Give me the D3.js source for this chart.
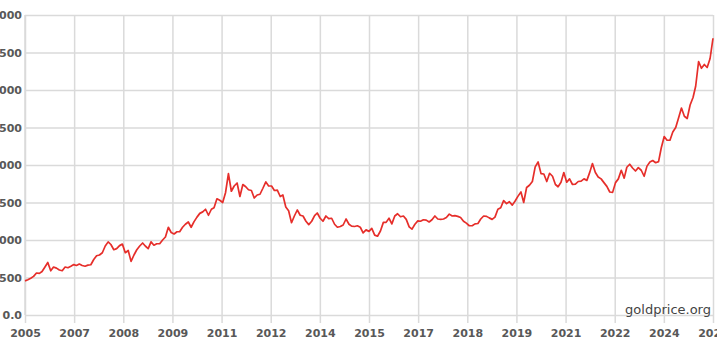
<!DOCTYPE html>
<html>
<head>
<meta charset="utf-8">
<script src="https://cdn.jsdelivr.net/npm/d3@7"></script>
<style>
  html, body { margin: 0; padding: 0; background: #fff; }
  #chart { width: 717px; height: 355px; overflow: hidden; }
  .axis text { font-family: "DejaVu Sans", sans-serif; font-size: 11px; font-weight: bold; fill: #585858; }
  .axis line { stroke: #dadada; stroke-width: 1.5; }
  .axis path { display: none; }
</style>
</head>
<body>
<div id="chart"></div>
<script>
// monthly gold price, USD/oz (series starts Sep 2005)
const firstMonth = 9;
const p2005 = [455, 470, 490, 515];
const p2006 = [560, 555, 580, 640, 700, 590, 640, 625, 600, 590, 640, 630];
const p2007 = [650, 672, 660, 680, 660, 650, 665, 670, 740, 790, 800, 830];
const p2008 = [920, 975, 940, 870, 885, 925, 945, 830, 860, 715, 800, 870];
const p2009 = [920, 960, 920, 885, 975, 930, 950, 950, 1000, 1040, 1170, 1100];
const p2010 = [1080, 1110, 1110, 1170, 1210, 1240, 1170, 1245, 1305, 1355, 1375, 1410];
const p2011 = [1330, 1410, 1430, 1550, 1530, 1500, 1630, 1885, 1650, 1720, 1760, 1580];
const p2012 = [1740, 1710, 1670, 1660, 1560, 1600, 1610, 1690, 1775, 1720, 1720, 1660];
const p2013 = [1665, 1580, 1600, 1440, 1390, 1230, 1320, 1400, 1330, 1320, 1250, 1205];
const p2014 = [1250, 1325, 1360, 1290, 1250, 1320, 1285, 1290, 1210, 1170, 1180, 1200];
const p2015 = [1280, 1210, 1185, 1180, 1190, 1170, 1095, 1135, 1115, 1155, 1065, 1050];
const p2016 = [1120, 1235, 1235, 1290, 1215, 1320, 1350, 1310, 1320, 1275, 1175, 1145];
const p2017 = [1210, 1255, 1250, 1270, 1265, 1240, 1270, 1320, 1280, 1275, 1280, 1300];
const p2018 = [1345, 1320, 1325, 1315, 1300, 1250, 1225, 1190, 1190, 1215, 1220, 1280];
const p2019 = [1320, 1315, 1295, 1275, 1305, 1410, 1430, 1525, 1485, 1510, 1465, 1520];
const p2020 = [1585, 1640, 1500, 1700, 1730, 1780, 1975, 2040, 1885, 1880, 1780, 1890];
const p2021 = [1850, 1740, 1710, 1770, 1900, 1770, 1815, 1740, 1745, 1780, 1785, 1815];
const p2022 = [1795, 1905, 2020, 1900, 1840, 1815, 1765, 1715, 1640, 1635, 1765, 1815];
const p2023 = [1930, 1825, 1970, 2010, 1960, 1920, 1965, 1930, 1850, 1985, 2040, 2060];
const p2024 = [2030, 2045, 2230, 2380, 2330, 2330, 2440, 2500, 2630, 2760, 2650, 2620];
const p2025 = [2800, 2900, 3050, 3380, 3290, 3340, 3300, 3420, 3690];

const yTicks = [0, 500, 1000, 1500, 2000, 2500, 3000, 3500, 4000];

const yearArrays = [p2005, p2006, p2007, p2008, p2009, p2010, p2011, p2012, p2013, p2014,
  p2015, p2016, p2017, p2018, p2019, p2020, p2021, p2022, p2023, p2024, p2025];

const data = [];
yearArrays.forEach((arr, i) => {
  const year = 2005 + i;
  const m0 = i === 0 ? firstMonth - 1 : 0;
  arr.forEach((v, j) => data.push({ date: new Date(year, m0 + j, 15), price: v }));
});

const W = 717, H = 355;
const mLeft = 25, mRight = 713, mTop = 15, mBottom = 315;

const svg = d3.select("#chart").append("svg")
  .attr("width", W).attr("height", H);

const x = d3.scaleTime()
  .domain(d3.extent(data, d => d.date))
  .range([mLeft, mRight]);

const y = d3.scaleLinear()
  .domain([0, 4000])
  .range([mBottom, mTop]);

// 15 evenly spaced ticks across the range, labelled with the year
const xTicks = d3.range(15).map(i => x.invert(mLeft + i * (mRight - mLeft) / 14));

svg.append("g")
  .attr("class", "axis")
  .attr("transform", `translate(0,${mTop})`)
  .call(d3.axisBottom(x)
    .tickValues(xTicks)
    .tickSize(mBottom - mTop + 8)
    .tickPadding(6)
    .tickFormat(d => d.getFullYear()));

svg.append("g")
  .attr("class", "axis")
  .attr("transform", `translate(${mLeft},0)`)
  .call(d3.axisLeft(y)
    .tickValues(yTicks)
    .tickSize(-(mRight - mLeft))
    .tickPadding(3)
    .tickFormat(d => d === 0 ? "0.0" : d));

// left edge of the plot
svg.append("line")
  .attr("x1", mLeft).attr("x2", mLeft)
  .attr("y1", mTop).attr("y2", mBottom)
  .attr("stroke", "#dadada").attr("stroke-width", 1.5);

svg.append("path")
  .datum(data)
  .attr("fill", "none")
  .attr("stroke", "#e62e2a")
  .attr("stroke-width", 1.7)
  .attr("stroke-linejoin", "round")
  .attr("d", d3.line().x(d => x(d.date)).y(d => y(d.price)));

svg.append("text")
  .attr("x", 711).attr("y", 314)
  .attr("text-anchor", "end")
  .style("font-family", "DejaVu Sans, sans-serif")
  .style("font-size", "13px")
  .style("fill", "#444")
  .text("goldprice.org");
</script>
</body>
</html>
